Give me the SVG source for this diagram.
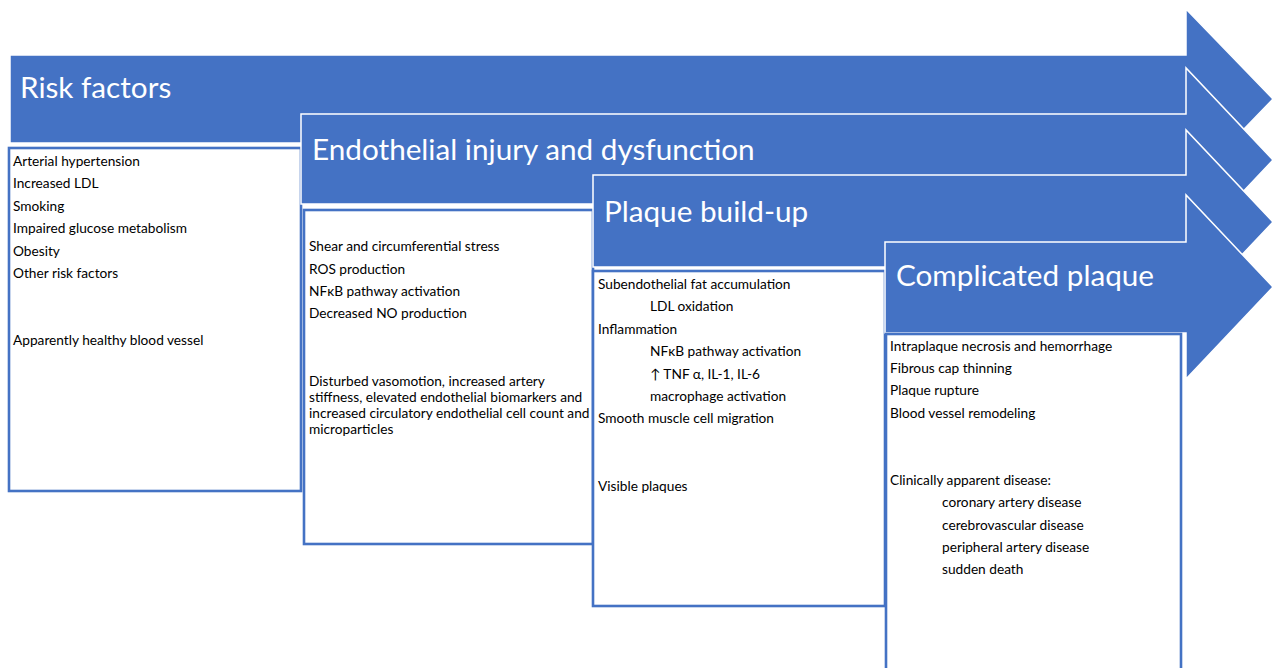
<svg xmlns="http://www.w3.org/2000/svg" width="1274" height="668" viewBox="0 0 1274 668">
<style>
.arrow{fill:#4472C4;stroke:#FFFFFF;stroke-width:1.5;stroke-linejoin:miter}
.box{fill:#FFFFFF;stroke:#4472C4;stroke-width:2.6}
.title{font-family:Lato,"Open Sans",sans-serif;font-size:29.7px;fill:#FFFFFF}
.body{font-family:Lato,"Open Sans",sans-serif;font-size:13.7px;fill:#000000}
</style>
<rect x="0" y="0" width="1274" height="668" fill="#FFFFFF"/>
<g id="stage1">
<path class="arrow" d="M10,55 H1186 V9 L1273,99 L1186,189 V143 H10 Z"/>
<text class="title" x="20" y="98">Risk factors</text>
</g>
<g id="box1">
<rect class="box" x="9" y="148" width="292" height="343"/>
<text class="body" x="13" y="166">Arterial hypertension</text>
<text class="body" x="13" y="188">Increased LDL</text>
<text class="body" x="13" y="211">Smoking</text>
<text class="body" x="13" y="233">Impaired glucose metabolism</text>
<text class="body" x="13" y="256">Obesity</text>
<text class="body" x="13" y="278">Other risk factors</text>
<text class="body" x="13" y="345">Apparently healthy blood vessel</text>
</g>
<g id="stage2">
<path class="arrow" d="M301,114 H1186 V68 L1273,160 L1186,252 V204 H301 Z"/>
<text class="title" x="312" y="160">Endothelial injury and dysfunction</text>
</g>
<g id="box2">
<rect class="box" x="304" y="210" width="289" height="334"/>
<text class="body" x="309" y="251">Shear and circumferential stress</text>
<text class="body" x="309" y="274">ROS production</text>
<text class="body" x="309" y="296">NFκB pathway activation</text>
<text class="body" x="309" y="318">Decreased NO production</text>
<text class="body" x="309" y="386">Disturbed vasomotion, increased artery</text>
<text class="body" x="309" y="402">stiffness, elevated endothelial biomarkers and</text>
<text class="body" x="309" y="418">increased circulatory endothelial cell count and</text>
<text class="body" x="309" y="434">microparticles</text>
</g>
<g id="stage3">
<path class="arrow" d="M593,175 H1186 V130 L1273,222 L1186,314 V267 H593 Z"/>
<text class="title" x="604" y="222">Plaque build-up</text>
</g>
<g id="box3">
<rect class="box" x="593" y="271" width="292" height="335"/>
<text class="body" x="598" y="289">Subendothelial fat accumulation</text>
<text class="body" x="650" y="311">LDL oxidation</text>
<text class="body" x="598" y="334">Inflammation</text>
<text class="body" x="650" y="356">NFκB pathway activation</text>
<text class="body" x="650" y="379">↑ TNF α, IL-1, IL-6</text>
<text class="body" x="650" y="401">macrophage activation</text>
<text class="body" x="598" y="423">Smooth muscle cell migration</text>
<text class="body" x="598" y="491">Visible plaques</text>
</g>
<g id="stage4">
<path class="arrow" d="M885,242 H1186 V195 L1273,287 L1186,379 V333 H885 Z"/>
<text class="title" x="896" y="286">Complicated plaque</text>
</g>
<g id="box4">
<rect class="box" x="886" y="334" width="295" height="346"/>
<text class="body" x="890" y="351">Intraplaque necrosis and hemorrhage</text>
<text class="body" x="890" y="373">Fibrous cap thinning</text>
<text class="body" x="890" y="395">Plaque rupture</text>
<text class="body" x="890" y="418">Blood vessel remodeling</text>
<text class="body" x="890" y="485">Clinically apparent disease:</text>
<text class="body" x="942" y="507">coronary artery disease</text>
<text class="body" x="942" y="530">cerebrovascular disease</text>
<text class="body" x="942" y="552">peripheral artery disease</text>
<text class="body" x="942" y="574">sudden death</text>
</g>
<g id="connectors"></g>
</svg>
